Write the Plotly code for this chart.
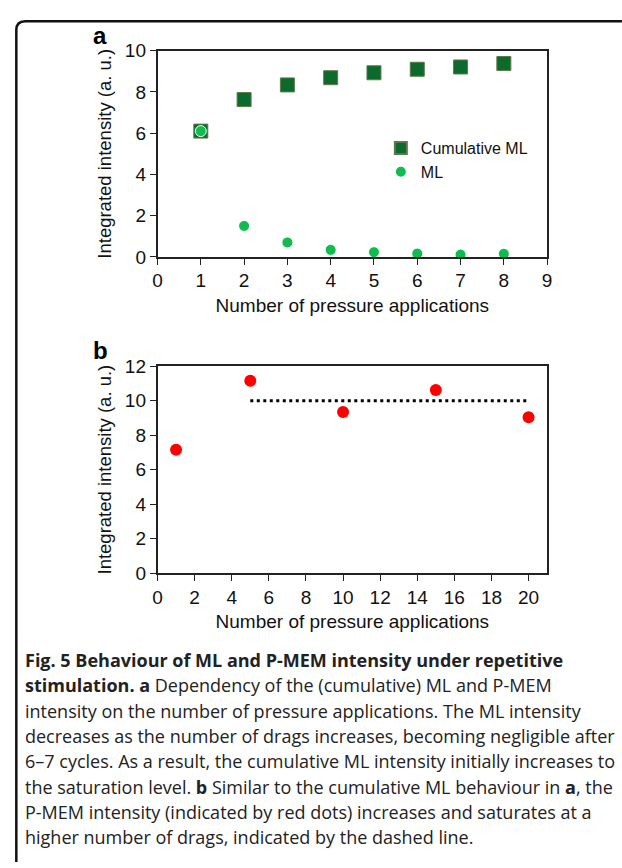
import plotly.graph_objects as go

# ---- data ----
pressures_a = [1, 2, 3, 4, 5, 6, 7, 8]
cumulative_ml = [6.1, 7.63, 8.34, 8.69, 8.93, 9.10, 9.21, 9.38]
ml = [6.1, 1.50, 0.70, 0.34, 0.23, 0.16, 0.11, 0.15]

pressures_b = [1, 5, 10, 15, 20]
pmem = [7.15, 11.15, 9.34, 10.62, 9.04]
sat_x = [5, 20]
sat_y = [10, 10]

W, H = 622, 868

def px_x(p):
    return p / W

def px_y(p):
    return 1 - p / H

fig = go.Figure()

fig.add_trace(go.Scatter(
    x=pressures_a, y=cumulative_ml, mode="markers", name="Cumulative ML",
    marker=dict(symbol="square", size=14, color="#0b6a2c",
                line=dict(color="#5f7a4a", width=1)),
    xaxis="x", yaxis="y"))
fig.add_trace(go.Scatter(
    x=pressures_a, y=ml, mode="markers", name="ML",
    marker=dict(symbol="circle", size=11, color="#0ebc4f",
                line=dict(color="white", width=1)),
    xaxis="x", yaxis="y"))

fig.add_trace(go.Scatter(
    x=sat_x, y=sat_y, mode="lines", showlegend=False,
    line=dict(color="black", width=3, dash="3px,3.5px"),
    xaxis="x2", yaxis="y2"))
fig.add_trace(go.Scatter(
    x=pressures_b, y=pmem, mode="markers", showlegend=False,
    marker=dict(symbol="circle", size=12, color="#ff0000"),
    xaxis="x2", yaxis="y2"))

axfont = dict(family="Liberation Sans, Arial, sans-serif", size=19, color="#111")
ytitle_font = dict(family="Liberation Sans, Arial, sans-serif", size=18.5, color="#111")
common = dict(showgrid=False, zeroline=False, showline=True, linecolor="#222",
              linewidth=1.5, mirror=True, ticks="outside", ticklen=6,
              tickwidth=1.2, tickcolor="#222", tickfont=axfont)

dom_x = [px_x(155), px_x(551)]
fig.update_layout(
    width=W, height=H,
    margin=dict(l=0, r=0, t=0, b=0),
    paper_bgcolor="white", plot_bgcolor="white",
    showlegend=True,
    legend=dict(x=px_x(382), y=px_y(124), xanchor="left", yanchor="top",
                font=dict(family="Liberation Sans, Arial, sans-serif", size=16, color="#111"),
                bgcolor="rgba(0,0,0,0)", itemsizing="constant", itemwidth=30,
                tracegroupgap=8),
    xaxis=dict(domain=dom_x, range=[0, 9], dtick=1, anchor="y",
               title=dict(text="Number of pressure applications", font=axfont, standoff=8),
               **common),
    yaxis=dict(domain=[px_y(253), px_y(41.7)], range=[0, 10], dtick=2, anchor="x",
               title=dict(text="Integrated intensity (a. u.)", font=ytitle_font, standoff=8),
               **common),
    xaxis2=dict(domain=dom_x, range=[0, 21], dtick=2, anchor="y2",
                title=dict(text="Number of pressure applications", font=axfont, standoff=8),
                **common),
    yaxis2=dict(domain=[px_y(577), px_y(365)], range=[0, 12], dtick=2, anchor="x2",
                title=dict(text="Integrated intensity (a. u.)", font=ytitle_font, standoff=8),
                **common),
)

# panel letters
for letter, yy in (("a", 26), ("b", 349)):
    fig.add_annotation(text="<b>%s</b>" % letter, xref="paper", yref="paper",
                       x=px_x(97), y=px_y(yy), xanchor="center", yanchor="middle",
                       showarrow=False,
                       font=dict(family="Liberation Sans, Arial, sans-serif", size=24, color="black"))

# rounded frame
x0, y0, r = 11.5, 11.5, 9
path = "M {a} {b} L {a} {c} Q {a} {d} {e} {d} L {f} {d}".format(
    a=px_x(x0), b=px_y(H + 5), c=px_y(y0 + r), d=px_y(y0), e=px_x(x0 + r), f=px_x(W + 5))
fig.add_shape(type="path", path=path, xref="paper", yref="paper",
              line=dict(color="#111", width=2.5))

# caption
caption_lines = [
    "<b>Fig. 5 Behaviour of ML and P-MEM intensity under repetitive</b>",
    "<b>stimulation. a</b> Dependency of the (cumulative) ML and P-MEM",
    "intensity on the number of pressure applications. The ML intensity",
    "decreases as the number of drags increases, becoming negligible after",
    "6–7 cycles. As a result, the cumulative ML intensity initially increases to",
    "the saturation level. <b>b</b> Similar to the cumulative ML behaviour in <b>a</b>, the",
    "P-MEM intensity (indicated by red dots) increases and saturates at a",
    "higher number of drags, indicated by the dashed line.",
]
cap_font = dict(family="Open Sans, Noto Sans, sans-serif", size=18, color="#222")
for i, line in enumerate(caption_lines):
    fig.add_annotation(text=line, xref="paper", yref="paper",
                       x=px_x(18), y=px_y(666 + 26 * i), xanchor="left", yanchor="middle",
                       showarrow=False, font=cap_font, align="left")

fig.write_html("out.html",
               post_script="document.body.style.margin='0';document.body.style.overflow='hidden';")
